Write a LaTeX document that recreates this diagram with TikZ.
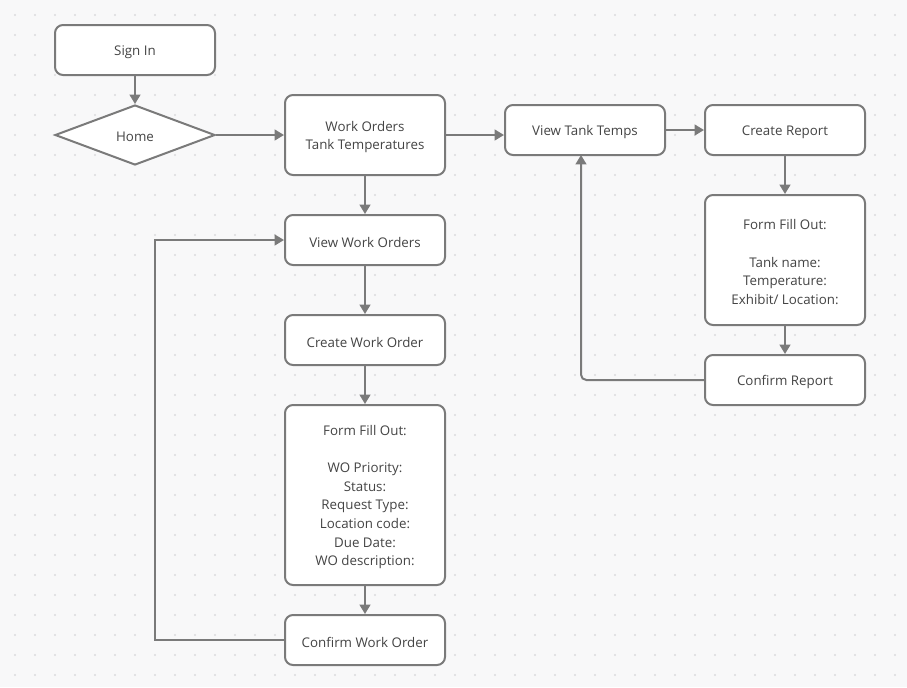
\documentclass[tikz,border=0pt]{standalone}
\usepackage{fontspec}
\setmainfont{Open Sans}
\usetikzlibrary{arrows.meta,shapes.geometric}
\definecolor{bg}{HTML}{F8F8F9}
\definecolor{dotc}{HTML}{DADADD}
\definecolor{linec}{HTML}{7A7A7A}
\definecolor{txt}{HTML}{444444}
\begin{document}
\begin{tikzpicture}[x=0.75pt,y=-0.75pt,
  box/.style={draw=linec, line width=1.5pt, fill=white, rounded corners=6pt,
    minimum width=120pt, minimum height=37.5pt, inner sep=0pt},
  lbl/.style={align=center, inner sep=0pt, yshift=-1.6pt,
    font=\fontsize{10}{14}\selectfont, text=txt},
  dia/.style={draw=linec, line width=1.5pt, fill=white, diamond,
    minimum width=120pt, minimum height=45pt, inner sep=0pt},
  conn/.style={draw=linec, line width=1.5pt, -{Triangle[width=8pt,length=7pt]}}]
\fill[bg] (0,0) rectangle (907,687);
\useasboundingbox (0,0) rectangle (907,687);
\foreach \i in {0,...,44}{\foreach \j in {0,...,33}{
  \fill[dotc] (15+20*\i,15+20*\j) circle (0.9pt);}}
% nodes
\node[box, label={[lbl]center:Sign In}] (signin) at (135,50) {};
\node[dia, label={[lbl]center:Home}] (home) at (135,135) {};
\node[box, minimum height=60pt, label={[lbl]center:Work Orders\\Tank Temperatures}] (wo) at (365,135) {};
\node[box, label={[lbl]center:View Tank Temps}] (vtt) at (585,130) {};
\node[box, label={[lbl]center:Create Report}] (cr) at (785,130) {};
\node[box, minimum height=97.5pt, label={[lbl]center:Form Fill Out:\\[14pt]Tank name:\\Temperature:\\Exhibit/ Location:}] (rform) at (785,260) {};
\node[box, label={[lbl]center:Confirm Report}] (conr) at (785,380) {};
\node[box, label={[lbl]center:View Work Orders}] (vwo) at (365,240) {};
\node[box, label={[lbl]center:Create Work Order}] (cwo) at (365,340) {};
\node[box, minimum height=135pt, label={[lbl]center:Form Fill Out:\\[14pt]WO Priority:\\Status:\\Request Type:\\Location code:\\Due Date:\\WO description:}] (lform) at (365,495) {};
\node[box, label={[lbl]center:Confirm Work Order}] (cowo) at (365,640) {};
\coordinate (vttin) at (581,155);
\coordinate (loopl) at (155,440);
\coordinate (woout) at (445,135);
% connectors
\draw[conn] (signin) -- (home);
\draw[conn] (home.east) -- (wo.west);
\draw[conn] (wo.east) -- (woout -| vtt.west);
\draw[conn] (vtt.east) -- (cr.west);
\draw[conn] (cr) -- (rform);
\draw[conn] (rform) -- (conr);
\draw[conn, rounded corners=4pt] (conr.west) -| (vttin);
\draw[conn] (wo) -- (vwo);
\draw[conn] (vwo) -- (cwo);
\draw[conn] (cwo) -- (lform);
\draw[conn] (lform) -- (cowo);
\draw[conn] (cowo.west) -| (loopl) |- (vwo.west);
\end{tikzpicture}
\end{document}
